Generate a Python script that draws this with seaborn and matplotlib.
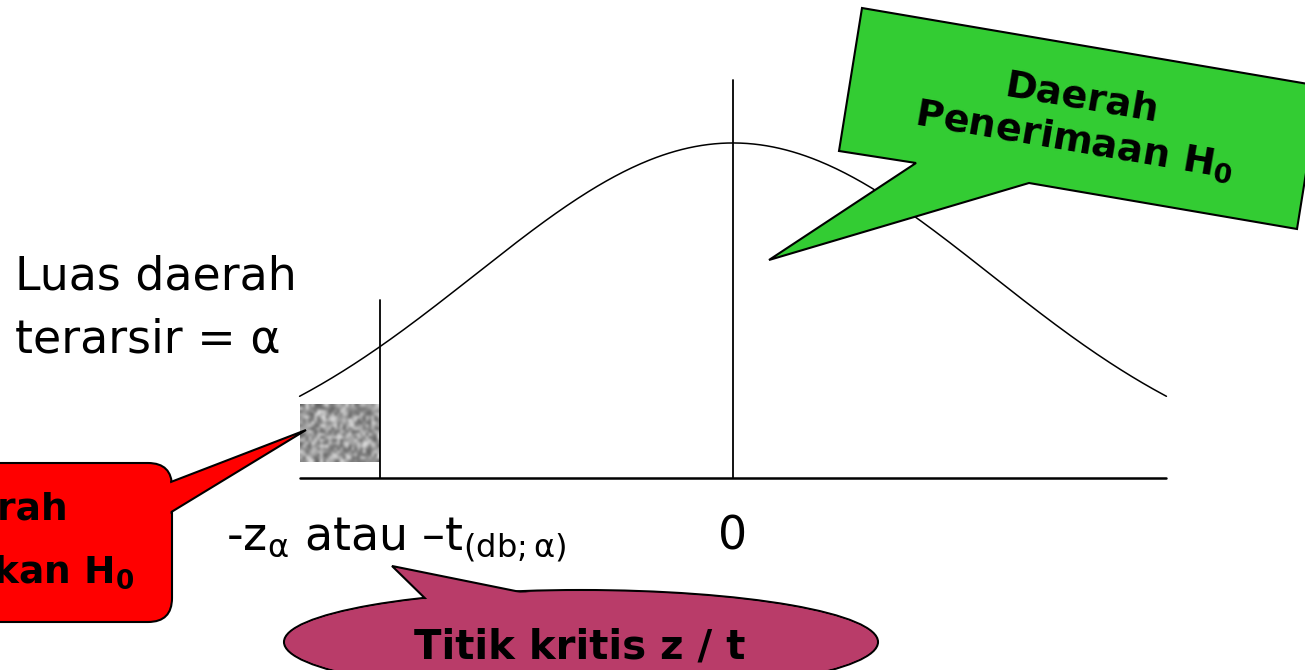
import numpy as np
import matplotlib
matplotlib.use('Agg')
import matplotlib.pyplot as plt
import seaborn as sns
from matplotlib.patches import Polygon, FancyBboxPatch, Ellipse

# values of the sketch (standard normal, z units)
curve_range = [-1.68, 1.68]
z_critical = -1.37
z_center = 0.0
center_line_top = 0.474
critical_line_top = 0.212
shade_box = [-1.68, -1.37, 0.019, 0.087]   # x0, x1, y0, y1

label_left = ["Luas daerah", "terarsir = α"]
label_critical = r"-z$_\mathregular{α}$ atau –t$_\mathregular{(db;α)}$"
label_zero = "0"
label_reject = ["Daerah", r"Penolakan H$_\mathbf{0}$"]
label_accept = "Daerah\n" + r"Penerimaan H$_\mathbf{0}$"
label_point = "Titik kritis z / t"

sns.set_theme(style='white')
plt.rcParams['font.family'] = ['DejaVu Sans']
plt.rcParams['text.color'] = 'black'
plt.rcParams['mathtext.fontset'] = 'dejavusans'

fig = plt.figure(figsize=(13.05, 6.70), dpi=100)
ax = fig.add_axes([0, 0, 1, 1])

z = np.linspace(curve_range[0], curve_range[1], 400)
pdf = np.exp(-z ** 2 / 2) / np.sqrt(2 * np.pi)
sns.lineplot(x=z, y=pdf, ax=ax, color='black', lw=1.1)
sns.lineplot(x=curve_range, y=[0, 0], ax=ax, color='black', lw=1.8)
ax.plot([z_center, z_center], [0, center_line_top], color='black', lw=1.3)
ax.plot([z_critical, z_critical], [0, critical_line_top], color='black', lw=1.3)

# mottled grey fill for the tail area (hash texture, purely decorative)
gi, gj = np.mgrid[0:20, 0:28]
tex = np.abs(np.sin(gi * 12.9898 + gj * 78.233) * 43758.5453) % 1.0
ax.imshow(tex, cmap='gray', vmin=-0.7, vmax=1.2, aspect='auto', interpolation='bicubic',
          extent=[shade_box[0], shade_box[1], shade_box[2], shade_box[3]], zorder=1)

ax.set_xlim(-733 / 258, (1305 - 733) / 258)
ax.set_ylim((478 - 670) / 839.8, 478 / 839.8)
ax.axis('off')

# annotation layer in pixel coordinates
ov = fig.add_axes([0, 0, 1, 1], zorder=5)
ov.set_xlim(0, 1305)
ov.set_ylim(670, 0)
ov.axis('off')
ov.patch.set_alpha(0)

ov.text(15, 277, label_left[0], fontsize=33, va='center', ha='left')
ov.text(15, 340, label_left[1], fontsize=33, va='center', ha='left')
ov.text(226, 540, label_critical, fontsize=33, va='center', ha='left')
ov.text(733, 537, label_zero, fontsize=33, va='center', ha='center')

# red callout
red = '#FF0000'
ov.add_patch(FancyBboxPatch((-60, 463), 232, 159, boxstyle='round,pad=0,rounding_size=24',
                            fc=red, ec='black', lw=1.5, zorder=1))
ov.add_patch(Polygon([(150, 490), (306, 430), (150, 525)], closed=True,
                     fc=red, ec='black', lw=1.5, zorder=2))
ov.add_patch(FancyBboxPatch((-58, 465), 228.5, 155, boxstyle='round,pad=0,rounding_size=22',
                            fc=red, ec='none', zorder=3))
ov.text(-8, 510, label_reject[0], fontsize=27, fontweight='bold', ha='center', va='center', zorder=4)
ov.text(-8, 572, label_reject[1], fontsize=27, fontweight='bold', ha='center', va='center', zorder=4)

# green callout
green = '#33CC33'
ov.add_patch(Polygon([(862, 8), (1320, 86), (1297, 229), (1029, 183), (769, 260),
                      (916, 163), (839, 151)], closed=True, fc=green, ec='black', lw=1.5))
ov.text(1078, 120, label_accept, fontsize=27.5, fontweight='bold', ha='center', va='center',
        rotation=-9.7, rotation_mode='anchor', linespacing=1.2)

# purple callout
purple = '#B93C69'
ov.add_patch(Ellipse((581, 642), 594, 104, fc=purple, ec='black', lw=1.5, zorder=1))
ov.add_patch(Polygon([(392, 566), (437, 610), (560, 600)], closed=True,
                     fc=purple, ec='black', lw=1.5, zorder=2))
ov.add_patch(Ellipse((581, 642), 591, 101, fc=purple, ec='none', zorder=3))
ov.text(580, 647, label_point, fontsize=29, fontweight='bold', ha='center', va='center', zorder=4)

fig.savefig('out.png', dpi=100)
